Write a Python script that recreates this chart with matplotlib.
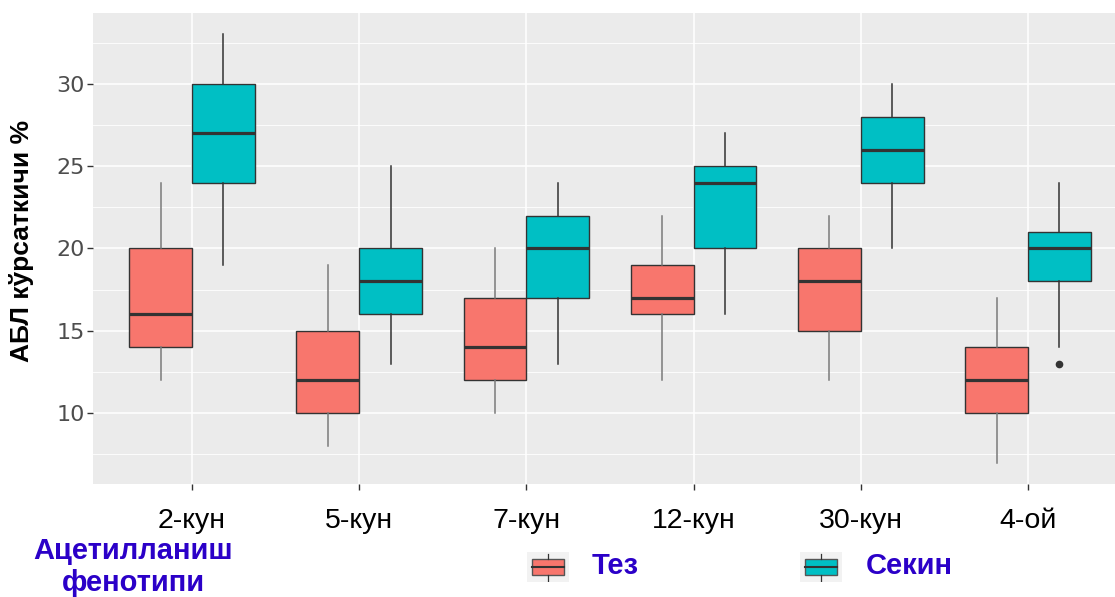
import matplotlib
matplotlib.use("Agg")
import matplotlib.pyplot as plt
from matplotlib.patches import Rectangle
import numpy as np

categories = ["2-кун", "5-кун", "7-кун", "12-кун", "30-кун", "4-ой"]
groups = ["Тез", "Секин"]
colors = ["#F8766D", "#00BFC4"]

# per group: whisker low, q1, median, q3, whisker high
tez_whislo = [12, 8, 10, 12, 12, 7]
tez_q1 = [14, 10, 12, 16, 15, 10]
tez_med = [16, 12, 14, 17, 18, 12]
tez_q3 = [20, 15, 17, 19, 20, 14]
tez_whishi = [24, 19, 20, 22, 22, 17]
tez_fliers = [[], [], [], [], [], []]

sek_whislo = [19, 13, 13, 16, 20, 14]
sek_q1 = [24, 16, 17, 20, 24, 18]
sek_med = [27, 18, 20, 24, 26, 20]
sek_q3 = [30, 20, 22, 25, 28, 21]
sek_whishi = [33, 25, 24, 27, 30, 24]
sek_fliers = [[], [], [], [], [], [13]]

yticks = [10, 15, 20, 25, 30]

fig = plt.figure(figsize=(11.15, 5.97), dpi=100)
ax = fig.add_axes([93 / 1115, 1 - 484 / 597, 1 - 93 / 1115, (484 - 13) / 597])
ax.set_facecolor("#EBEBEB")
for s in ax.spines.values():
    s.set_visible(False)

def stats(lo, q1, med, q3, hi, fl):
    return [dict(whislo=a, q1=b, med=c, q3=d, whishi=e, fliers=f)
            for a, b, c, d, e, f in zip(lo, q1, med, q3, hi, fl)]

all_stats = [stats(tez_whislo, tez_q1, tez_med, tez_q3, tez_whishi, tez_fliers),
             stats(sek_whislo, sek_q1, sek_med, sek_q3, sek_whishi, sek_fliers)]
wcols = ["#7a7a7a", "#333333"]
x = np.arange(1, len(categories) + 1)
bw = 0.375
for gi, st in enumerate(all_stats):
    pos = x + (gi - 0.5) * bw
    ax.bxp(st, positions=pos, widths=bw, patch_artist=True, showcaps=False,
           boxprops=dict(facecolor=colors[gi], edgecolor="#333333", linewidth=1.0),
           medianprops=dict(color="#333333", linewidth=2.3),
           whiskerprops=dict(color=wcols[gi], linewidth=1.1),
           flierprops=dict(marker="o", markerfacecolor="#333333", markeredgecolor="#333333",
                           markersize=4.5),
           zorder=3)

ax.set_xlim(0.408, 6.52)
ax.set_ylim(5.7, 34.3)
ax.set_xticks(x)
ax.set_xticklabels(categories, fontsize=20.5, color="black", family="Liberation Sans")
ax.set_yticks(yticks)
ax.set_yticklabels([str(v) for v in yticks], fontsize=16, color="#4D4D4D", family="DejaVu Sans")
ax.set_yticks(np.arange(7.5, 34, 5), minor=True)
ax.tick_params(axis="both", which="major", length=4, width=1, color="#333333")
ax.tick_params(axis="x", which="major", pad=13)
ax.tick_params(axis="y", which="major", pad=2)
ax.tick_params(which="minor", length=0)
ax.grid(True, which="major", color="white", linewidth=1.1, zorder=0)
ax.grid(True, which="minor", axis="y", color="white", linewidth=0.6, zorder=0)
ax.set_axisbelow(True)

fig.text(22 / 1115, 1 - 241 / 597, "АБЛ кўрсаткичи %", rotation=90, ha="center", va="center",
         fontsize=19, fontweight="bold", family="Liberation Sans", color="black")

# legend
blue = "#2B00C8"
fig.text(133 / 1115, 1 - 567 / 597, "Ацетилланиш\nфенотипи", ha="center", va="center",
         fontsize=21, fontweight="bold", family="Liberation Sans", color=blue,
         linespacing=1.2)

def key(x0, color):
    kax = fig.add_axes([x0 / 1115, 1 - 582 / 597, 42 / 1115, 30 / 597])
    kax.set_xlim(0, 1)
    kax.set_ylim(0, 1)
    kax.axis("off")
    kax.add_patch(Rectangle((0, 0), 1, 1, facecolor="#F2F2F2", edgecolor="none"))
    kax.plot([0.5, 0.5], [0.05, 0.25], color="#333333", lw=0.9)
    kax.plot([0.5, 0.5], [0.78, 0.95], color="#333333", lw=0.9)
    kax.add_patch(Rectangle((0.12, 0.25), 0.76, 0.53, facecolor=color, edgecolor="#555555", lw=1.0))
    kax.plot([0.12, 0.88], [0.515, 0.515], color="#333333", lw=1.5)

key(527, colors[0])
key(800, colors[1])
fig.text(592 / 1115, 1 - 566 / 597, "Тез", ha="left", va="center", fontsize=21,
         fontweight="bold", family="Liberation Sans", color=blue)
fig.text(866 / 1115, 1 - 566 / 597, "Секин", ha="left", va="center", fontsize=21,
         fontweight="bold", family="Liberation Sans", color=blue)

fig.savefig("out.png", dpi=100)
